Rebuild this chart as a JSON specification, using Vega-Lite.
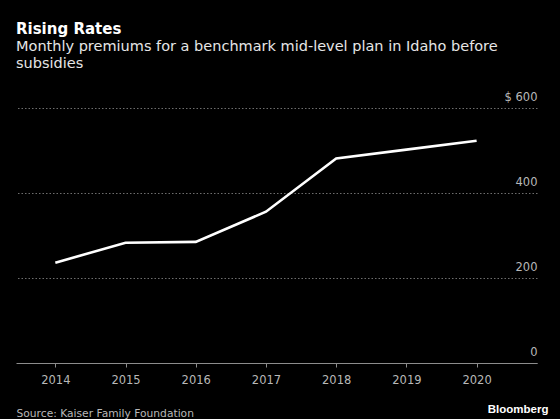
{
  "$schema": "https://vega.github.io/schema/vega-lite/v6.json",
  "width": 521,
  "height": 255,
  "autosize": {"type": "none"},
  "padding": {"left": 16, "top": 108, "right": 23, "bottom": 56},
  "background": "#000000",
  "title": {
    "text": "Rising Rates",
    "subtitle": ["Monthly premiums for a benchmark mid-level plan in Idaho before", "subsidies"],
    "anchor": "start",
    "frame": "group",
    "font": "DejaVu Sans",
    "fontSize": 15,
    "fontWeight": "bold",
    "color": "#ffffff",
    "subtitleFont": "DejaVu Sans",
    "subtitleFontSize": 14.5,
    "subtitleColor": "#e6e6e6",
    "subtitleLineHeight": 17.6,
    "subtitlePadding": 2.5,
    "offset": 20
  },
  "data": {
    "values": [
      {"year": 2014, "premium": 236},
      {"year": 2015, "premium": 283},
      {"year": 2016, "premium": 285},
      {"year": 2017, "premium": 356},
      {"year": 2018, "premium": 481},
      {"year": 2019, "premium": 502},
      {"year": 2020, "premium": 523}
    ]
  },
  "mark": {"type": "line", "color": "#ffffff", "strokeWidth": 2.6},
  "encoding": {
    "x": {
      "field": "year",
      "type": "quantitative",
      "scale": {"domain": [2013.44, 2020.86], "nice": false, "zero": false},
      "axis": {
        "values": [2014, 2015, 2016, 2017, 2018, 2019, 2020],
        "format": "d",
        "grid": false,
        "domainColor": "#8c8c8c",
        "tickColor": "#8c8c8c",
        "tickSize": 4,
        "labelFont": "DejaVu Sans",
        "labelFontSize": 11.5,
        "labelColor": "#b8b8b8",
        "labelPadding": 7,
        "title": "Source: Kaiser Family Foundation",
        "titleFont": "DejaVu Sans",
        "titleFontSize": 10.7,
        "titleFontWeight": "normal",
        "titleColor": "#b8b8b8",
        "titleAnchor": "start",
        "titleAlign": "left",
        "titleBaseline": "alphabetic",
        "titleX": 0,
        "titleY": 53
      }
    },
    "y": {
      "field": "premium",
      "type": "quantitative",
      "scale": {"domain": [0, 600], "nice": false},
      "axis": {
        "orient": "right",
        "values": [0, 200, 400, 600],
        "labelExpr": "datum.value == 600 ? '$ 600' : datum.label",
        "domain": false,
        "ticks": false,
        "tickSize": 0,
        "grid": true,
        "gridColor": "#6e6e6e",
        "gridDash": [1.5, 2],
        "gridWidth": 1,
        "labelAlign": "right",
        "labelBaseline": "alphabetic",
        "labelOffset": -8,
        "labelPadding": 0,
        "labelFont": "DejaVu Sans",
        "labelFontSize": 11.5,
        "labelColor": "#b8b8b8",
        "title": "Bloomberg",
        "titleAngle": 0,
        "titleFont": "Liberation Sans",
        "titleFontSize": 11.5,
        "titleFontWeight": "bold",
        "titleColor": "#ffffff",
        "titleAlign": "right",
        "titleBaseline": "alphabetic",
        "titleX": 11,
        "titleY": 304
      }
    }
  },
  "config": {"view": {"stroke": null}}
}
